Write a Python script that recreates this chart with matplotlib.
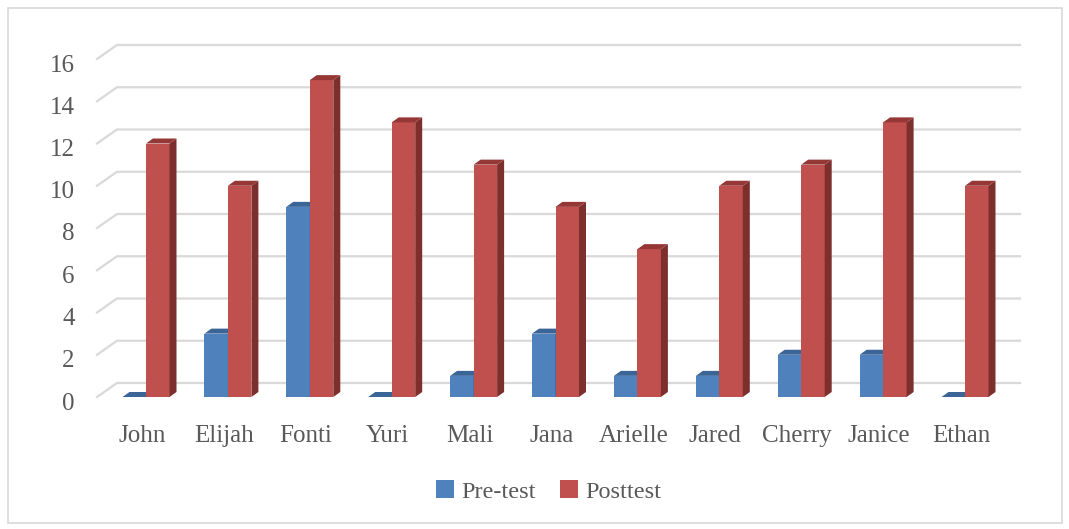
import matplotlib

matplotlib.use("Agg")
import matplotlib.pyplot as plt
import matplotlib.transforms as mtransforms
from matplotlib.patches import Polygon, Rectangle
import numpy as np

students = ["John", "Elijah", "Fonti", "Yuri", "Mali", "Jana",
            "Arielle", "Jared", "Cherry", "Janice", "Ethan"]
pre_test = [0, 3, 9, 0, 1, 3, 1, 1, 2, 2, 0]
post_test = [12, 10, 15, 13, 11, 9, 7, 10, 11, 13, 10]
y_ticks = [0, 2, 4, 6, 8, 10, 12, 14, 16]

plt.rcParams["font.family"] = ["Liberation Serif", "DejaVu Serif"]

fig = plt.figure(figsize=(10.69, 5.29), dpi=100)
ax = fig.add_axes([97 / 1069, 132 / 529, 903 / 1069, 338 / 529])

px_x = 81.9   # pixels per category
px_y = 338 / 16   # pixels per unit
xmin = (97 - 146) / px_x
xmax = (1000 - 146) / px_x
ax.set_xlim(xmin, xmax)
ax.set_ylim(0, 16)

# back-wall and bar-depth offsets in data units
wall_dx, wall_dy = 20 / px_x, 14 / px_y
bar_dx, bar_dy = 7 / px_x, 5 / px_y

for v in y_ticks:
    ax.plot([xmin, xmin + wall_dx, xmax + wall_dx], [v, v + wall_dy, v + wall_dy],
            color="#d9d9d9", linewidth=1.6, clip_on=False, zorder=1)

width = 23.5 / px_x
x = np.arange(len(students))

series = [
    (pre_test, -width / 2, "#4f81bd", "#385d8a", "#3b6596", "Pre-test"),
    (post_test, width / 2, "#c0504d", "#7d2f2e", "#953735", "Posttest"),
]
for values, shift, front, side, top, label in series:
    ax.bar(x + shift, values, width=width, color=front, zorder=3, label=label,
           clip_on=False)
    for xi, v in zip(x + shift, values):
        l, r = xi - width / 2, xi + width / 2
        ax.add_patch(Polygon([(r, 0), (r + bar_dx, bar_dy), (r + bar_dx, v + bar_dy), (r, v)],
                             closed=True, facecolor=side, edgecolor="none", zorder=3,
                             clip_on=False))
        ax.add_patch(Polygon([(l, v), (l + bar_dx, v + bar_dy), (r + bar_dx, v + bar_dy), (r, v)],
                             closed=True, facecolor=top, edgecolor="none", zorder=3,
                             clip_on=False))

ax.set_yticks(y_ticks)
ax.set_yticklabels([str(t) for t in y_ticks], fontsize=18, color="#595959")
ax.set_xticks(x - 0.05)
ax.set_xticklabels(students, fontsize=18, color="#595959")
ax.tick_params(length=0)
ax.tick_params(axis="y", pad=16)
ax.tick_params(axis="x", pad=20)
# tick labels sit a little below the front plane, as in the original
shift_down = mtransforms.ScaledTranslation(0, -4 / 100, fig.dpi_scale_trans)
for t in ax.get_yticklabels():
    t.set_transform(t.get_transform() + shift_down)
for s in ax.spines.values():
    s.set_visible(False)
ax.patch.set_alpha(0)

ax.legend(loc="center", bbox_to_anchor=(0.50, -0.28), ncol=2, frameon=False,
          fontsize=17.5, labelcolor="#595959", handlelength=0.75, handleheight=0.75,
          handletextpad=0.3, columnspacing=1.0)

fig.add_artist(Rectangle((8 / 1069, 6 / 529), 1054 / 1069, 515 / 529,
                         transform=fig.transFigure, fill=False,
                         edgecolor="#d9d9d9", linewidth=1.2))

fig.savefig("out.png", dpi=100)
